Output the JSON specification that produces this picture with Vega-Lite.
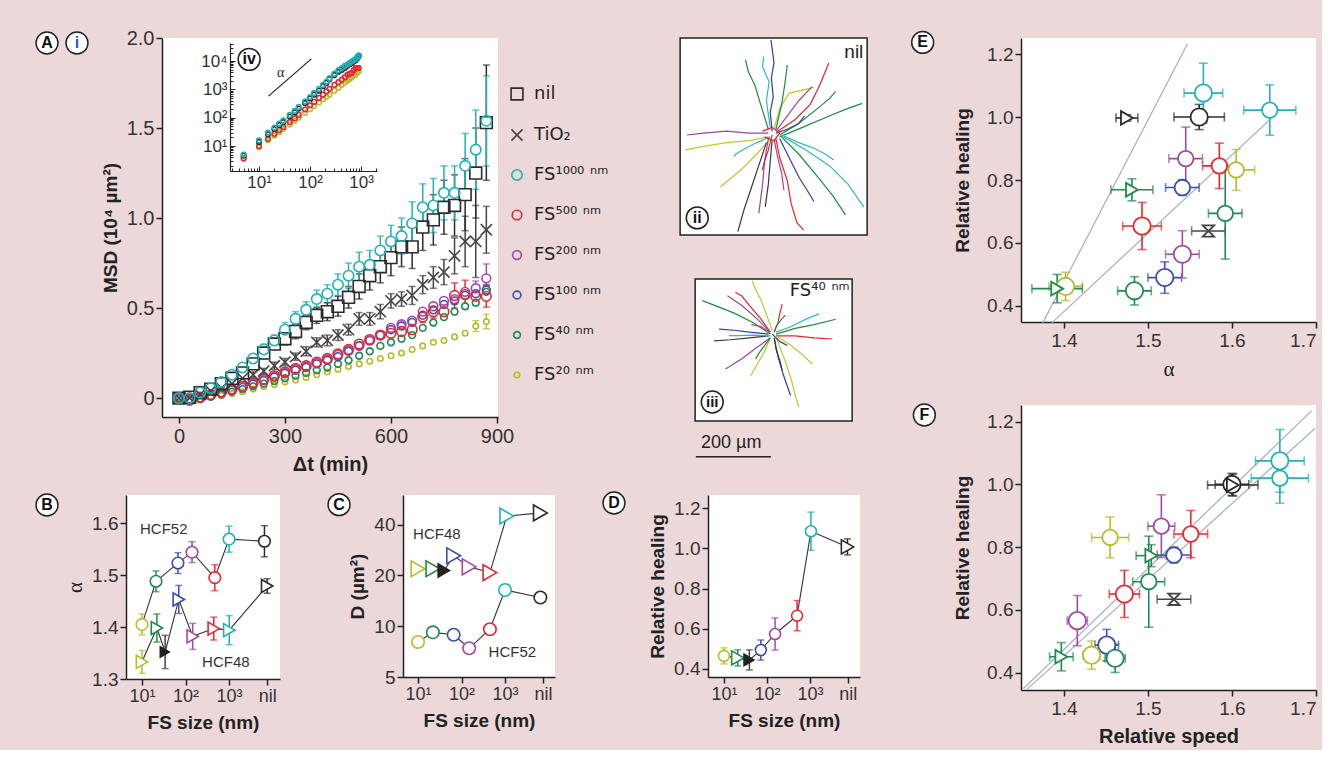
{
"$schema":"https://vega.github.io/schema/vega-lite/v6.json",
"background":"#ecd8d9",
"padding":{"left":33,"top":28,"right":4,"bottom":4},
"config":{
 "font":"Liberation Sans",
 "view":{"fill":"white","stroke":null},
 "axis":{"grid":false,"domainColor":"#222","domainWidth":1.5,"tickColor":"#222","tickWidth":1.5,"tickSize":6,"labelFontSize":19,"labelColor":"#333","labelPadding":2,"titleFontSize":19,"titleFontWeight":"bold","titleColor":"#222","titlePadding":8,"labelFont":"Liberation Sans","titleFont":"Liberation Sans"},
 "legend":{"labelFont":"DejaVu Sans"},
 "text":{"font":"Liberation Sans"}
},
"datasets":{
"msd":[
{"s":"20","t":0,"v":0},{"s":"20","t":30,"v":-0.01},{"s":"20","t":60,"v":-0.005},{"s":"20","t":90,"v":0.005},{"s":"20","t":120,"v":0.015},{"s":"20","t":150,"v":0.025},{"s":"20","t":180,"v":0.035},{"s":"20","t":210,"v":0.05},{"s":"20","t":240,"v":0.065},{"s":"20","t":270,"v":0.075},{"s":"20","t":300,"v":0.09},{"s":"20","t":330,"v":0.1},{"s":"20","t":360,"v":0.115},{"s":"20","t":390,"v":0.13},{"s":"20","t":420,"v":0.145},{"s":"20","t":450,"v":0.16},{"s":"20","t":480,"v":0.175},{"s":"20","t":510,"v":0.19},{"s":"20","t":540,"v":0.205},{"s":"20","t":570,"v":0.22},{"s":"20","t":600,"v":0.235},{"s":"20","t":630,"v":0.25},{"s":"20","t":660,"v":0.27},{"s":"20","t":690,"v":0.29},{"s":"20","t":720,"v":0.31},{"s":"20","t":750,"v":0.32},{"s":"20","t":780,"v":0.34},{"s":"20","t":810,"v":0.36},{"s":"20","t":840,"v":0.4,"e":0.03},{"s":"20","t":870,"v":0.425,"e":0.04},
{"s":"40","t":0,"v":0},{"s":"40","t":30,"v":-0.01},{"s":"40","t":60,"v":-0.005},{"s":"40","t":90,"v":0.008},{"s":"40","t":120,"v":0.02},{"s":"40","t":150,"v":0.035},{"s":"40","t":180,"v":0.05},{"s":"40","t":210,"v":0.065},{"s":"40","t":240,"v":0.08},{"s":"40","t":270,"v":0.095},{"s":"40","t":300,"v":0.11},{"s":"40","t":330,"v":0.125},{"s":"40","t":360,"v":0.14},{"s":"40","t":390,"v":0.155},{"s":"40","t":420,"v":0.17},{"s":"40","t":450,"v":0.19},{"s":"40","t":480,"v":0.21},{"s":"40","t":510,"v":0.235},{"s":"40","t":540,"v":0.26},{"s":"40","t":570,"v":0.29},{"s":"40","t":600,"v":0.31},{"s":"40","t":630,"v":0.33},{"s":"40","t":660,"v":0.35},{"s":"40","t":690,"v":0.39},{"s":"40","t":720,"v":0.42},{"s":"40","t":750,"v":0.45},{"s":"40","t":780,"v":0.48},{"s":"40","t":810,"v":0.51},{"s":"40","t":840,"v":0.53},{"s":"40","t":870,"v":0.59,"e":0.03},
{"s":"100","t":0,"v":0},{"s":"100","t":30,"v":-0.01},{"s":"100","t":60,"v":0},{"s":"100","t":90,"v":0.012},{"s":"100","t":120,"v":0.028},{"s":"100","t":150,"v":0.045},{"s":"100","t":180,"v":0.06},{"s":"100","t":210,"v":0.078},{"s":"100","t":240,"v":0.097},{"s":"100","t":270,"v":0.117},{"s":"100","t":300,"v":0.137},{"s":"100","t":330,"v":0.155},{"s":"100","t":360,"v":0.17},{"s":"100","t":390,"v":0.19},{"s":"100","t":420,"v":0.21},{"s":"100","t":450,"v":0.23},{"s":"100","t":480,"v":0.26},{"s":"100","t":510,"v":0.29},{"s":"100","t":540,"v":0.32},{"s":"100","t":570,"v":0.35},{"s":"100","t":600,"v":0.38},{"s":"100","t":630,"v":0.4},{"s":"100","t":660,"v":0.42},{"s":"100","t":690,"v":0.46},{"s":"100","t":720,"v":0.49},{"s":"100","t":750,"v":0.52},{"s":"100","t":780,"v":0.54},{"s":"100","t":810,"v":0.57},{"s":"100","t":840,"v":0.58},{"s":"100","t":870,"v":0.6,"e":0.03},
{"s":"200","t":0,"v":0},{"s":"200","t":30,"v":-0.015},{"s":"200","t":60,"v":0},{"s":"200","t":90,"v":0.015},{"s":"200","t":120,"v":0.03},{"s":"200","t":150,"v":0.045},{"s":"200","t":180,"v":0.06},{"s":"200","t":210,"v":0.08},{"s":"200","t":240,"v":0.1},{"s":"200","t":270,"v":0.12},{"s":"200","t":300,"v":0.14},{"s":"200","t":330,"v":0.16},{"s":"200","t":360,"v":0.175},{"s":"200","t":390,"v":0.195},{"s":"200","t":420,"v":0.215},{"s":"200","t":450,"v":0.24},{"s":"200","t":480,"v":0.265},{"s":"200","t":510,"v":0.29},{"s":"200","t":540,"v":0.32},{"s":"200","t":570,"v":0.35},{"s":"200","t":600,"v":0.39},{"s":"200","t":630,"v":0.41},{"s":"200","t":660,"v":0.43},{"s":"200","t":690,"v":0.48},{"s":"200","t":720,"v":0.51},{"s":"200","t":750,"v":0.54},{"s":"200","t":780,"v":0.55},{"s":"200","t":810,"v":0.59},{"s":"200","t":840,"v":0.61,"e":0.04},{"s":"200","t":870,"v":0.665,"e":0.08},
{"s":"500","t":0,"v":0},{"s":"500","t":30,"v":-0.005},{"s":"500","t":60,"v":0.005},{"s":"500","t":90,"v":0.02},{"s":"500","t":120,"v":0.035},{"s":"500","t":150,"v":0.05},{"s":"500","t":180,"v":0.065},{"s":"500","t":210,"v":0.085},{"s":"500","t":240,"v":0.105},{"s":"500","t":270,"v":0.125},{"s":"500","t":300,"v":0.145},{"s":"500","t":330,"v":0.165},{"s":"500","t":360,"v":0.18},{"s":"500","t":390,"v":0.2},{"s":"500","t":420,"v":0.22},{"s":"500","t":450,"v":0.245},{"s":"500","t":480,"v":0.27},{"s":"500","t":510,"v":0.3},{"s":"500","t":540,"v":0.325},{"s":"500","t":570,"v":0.35},{"s":"500","t":600,"v":0.36},{"s":"500","t":630,"v":0.37},{"s":"500","t":660,"v":0.38,"e":0.03},{"s":"500","t":690,"v":0.45,"e":0.03},{"s":"500","t":720,"v":0.48,"e":0.035},{"s":"500","t":750,"v":0.48,"e":0.04},{"s":"500","t":780,"v":0.57,"e":0.07},{"s":"500","t":810,"v":0.575,"e":0.08},{"s":"500","t":840,"v":0.565,"e":0.05},{"s":"500","t":870,"v":0.565,"e":0.06},
{"s":"TiO2","t":0,"v":0},{"s":"TiO2","t":30,"v":0},{"s":"TiO2","t":60,"v":0.02},{"s":"TiO2","t":90,"v":0.04},{"s":"TiO2","t":120,"v":0.055},{"s":"TiO2","t":150,"v":0.08},{"s":"TiO2","t":180,"v":0.11},{"s":"TiO2","t":210,"v":0.13,"e":0.015},{"s":"TiO2","t":240,"v":0.15,"e":0.015},{"s":"TiO2","t":270,"v":0.18,"e":0.02},{"s":"TiO2","t":300,"v":0.2,"e":0.02},{"s":"TiO2","t":330,"v":0.23,"e":0.02},{"s":"TiO2","t":360,"v":0.26,"e":0.025},{"s":"TiO2","t":390,"v":0.31,"e":0.025},{"s":"TiO2","t":420,"v":0.32,"e":0.03},{"s":"TiO2","t":450,"v":0.35,"e":0.03},{"s":"TiO2","t":480,"v":0.38,"e":0.03},{"s":"TiO2","t":510,"v":0.44,"e":0.035},{"s":"TiO2","t":540,"v":0.44,"e":0.035},{"s":"TiO2","t":570,"v":0.48,"e":0.04},{"s":"TiO2","t":600,"v":0.54,"e":0.04},{"s":"TiO2","t":630,"v":0.55,"e":0.04},{"s":"TiO2","t":660,"v":0.57,"e":0.05},{"s":"TiO2","t":690,"v":0.63,"e":0.05},{"s":"TiO2","t":720,"v":0.67,"e":0.06},{"s":"TiO2","t":750,"v":0.7,"e":0.07},{"s":"TiO2","t":780,"v":0.79,"e":0.1},{"s":"TiO2","t":810,"v":0.87,"e":0.14},{"s":"TiO2","t":840,"v":0.87,"e":0.2},{"s":"TiO2","t":870,"v":0.935,"e":0.13},
{"s":"nil","t":0,"v":0},{"s":"nil","t":30,"v":0.005},{"s":"nil","t":60,"v":0.03},{"s":"nil","t":90,"v":0.05},{"s":"nil","t":120,"v":0.08},{"s":"nil","t":150,"v":0.11},{"s":"nil","t":180,"v":0.14},{"s":"nil","t":210,"v":0.19},{"s":"nil","t":240,"v":0.25,"e":0.03},{"s":"nil","t":270,"v":0.3,"e":0.03},{"s":"nil","t":300,"v":0.33,"e":0.035},{"s":"nil","t":330,"v":0.37,"e":0.04},{"s":"nil","t":360,"v":0.42,"e":0.04},{"s":"nil","t":390,"v":0.46,"e":0.045},{"s":"nil","t":420,"v":0.48,"e":0.05},{"s":"nil","t":450,"v":0.51,"e":0.055},{"s":"nil","t":480,"v":0.56,"e":0.06},{"s":"nil","t":510,"v":0.62,"e":0.07},{"s":"nil","t":540,"v":0.68,"e":0.08},{"s":"nil","t":570,"v":0.73,"e":0.09},{"s":"nil","t":600,"v":0.78,"e":0.1},{"s":"nil","t":630,"v":0.84,"e":0.11},{"s":"nil","t":660,"v":0.84,"e":0.12},{"s":"nil","t":690,"v":0.95,"e":0.13},{"s":"nil","t":720,"v":0.99,"e":0.14},{"s":"nil","t":750,"v":1.06,"e":0.15},{"s":"nil","t":780,"v":1.07,"e":0.17},{"s":"nil","t":810,"v":1.13,"e":0.2},{"s":"nil","t":840,"v":1.25,"e":0.25},{"s":"nil","t":870,"v":1.53,"e":0.32},
{"s":"1000","t":0,"v":0},{"s":"1000","t":30,"v":0},{"s":"1000","t":60,"v":0.03},{"s":"1000","t":90,"v":0.055},{"s":"1000","t":120,"v":0.09},{"s":"1000","t":150,"v":0.13},{"s":"1000","t":180,"v":0.17},{"s":"1000","t":210,"v":0.22},{"s":"1000","t":240,"v":0.27,"e":0.03},{"s":"1000","t":270,"v":0.32,"e":0.03},{"s":"1000","t":300,"v":0.38,"e":0.04},{"s":"1000","t":330,"v":0.44,"e":0.04},{"s":"1000","t":360,"v":0.49,"e":0.045},{"s":"1000","t":390,"v":0.55,"e":0.05},{"s":"1000","t":420,"v":0.58,"e":0.05},{"s":"1000","t":450,"v":0.63,"e":0.06},{"s":"1000","t":480,"v":0.68,"e":0.07},{"s":"1000","t":510,"v":0.73,"e":0.08},{"s":"1000","t":540,"v":0.74,"e":0.08},{"s":"1000","t":570,"v":0.82,"e":0.08},{"s":"1000","t":600,"v":0.87,"e":0.09},{"s":"1000","t":630,"v":0.9,"e":0.1},{"s":"1000","t":660,"v":0.97,"e":0.12},{"s":"1000","t":690,"v":1.06,"e":0.13},{"s":"1000","t":720,"v":1.07,"e":0.15},{"s":"1000","t":750,"v":1.14,"e":0.15},{"s":"1000","t":780,"v":1.14,"e":0.15},{"s":"1000","t":810,"v":1.29,"e":0.18},{"s":"1000","t":840,"v":1.38,"e":0.22},{"s":"1000","t":870,"v":1.54,"e":0.25}
],
"inset":[
{"s":"20","t":5,"v":3.8},{"s":"20","t":10,"v":9},{"s":"20","t":15,"v":16},{"s":"20","t":20,"v":23},{"s":"20","t":25,"v":31},{"s":"20","t":30,"v":40},{"s":"20","t":40,"v":58},{"s":"20","t":50,"v":78},{"s":"20","t":60,"v":100},{"s":"20","t":80,"v":150},{"s":"20","t":100,"v":200},{"s":"20","t":120,"v":260},{"s":"20","t":150,"v":350},{"s":"20","t":180,"v":450},{"s":"20","t":210,"v":550},{"s":"20","t":240,"v":650},{"s":"20","t":300,"v":900},{"s":"20","t":360,"v":1150},{"s":"20","t":420,"v":1450},{"s":"20","t":480,"v":1750},{"s":"20","t":540,"v":2050},{"s":"20","t":600,"v":2350},{"s":"20","t":660,"v":2700},{"s":"20","t":720,"v":3100},{"s":"20","t":780,"v":3400},{"s":"20","t":840,"v":4000},{"s":"20","t":900,"v":4300},
{"s":"500","t":5,"v":3.6},{"s":"500","t":10,"v":10},{"s":"500","t":15,"v":18},{"s":"500","t":20,"v":27},{"s":"500","t":25,"v":37},{"s":"500","t":30,"v":47},{"s":"500","t":40,"v":70},{"s":"500","t":50,"v":95},{"s":"500","t":60,"v":125},{"s":"500","t":80,"v":195},{"s":"500","t":100,"v":275},{"s":"500","t":120,"v":360},{"s":"500","t":150,"v":500},{"s":"500","t":180,"v":650},{"s":"500","t":210,"v":850},{"s":"500","t":240,"v":1050},{"s":"500","t":300,"v":1450},{"s":"500","t":360,"v":1800},{"s":"500","t":420,"v":2200},{"s":"500","t":480,"v":2700},{"s":"500","t":540,"v":3300},{"s":"500","t":600,"v":3600},{"s":"500","t":660,"v":3800},{"s":"500","t":720,"v":4800},{"s":"500","t":780,"v":5700},{"s":"500","t":840,"v":5650},{"s":"500","t":900,"v":5700},
{"s":"nil","t":5,"v":4.6},{"s":"nil","t":10,"v":14},{"s":"nil","t":15,"v":26},{"s":"nil","t":20,"v":40},{"s":"nil","t":25,"v":55},{"s":"nil","t":30,"v":70},{"s":"nil","t":40,"v":110},{"s":"nil","t":50,"v":155},{"s":"nil","t":60,"v":210},{"s":"nil","t":80,"v":330},{"s":"nil","t":100,"v":480},{"s":"nil","t":120,"v":650},{"s":"nil","t":150,"v":900},{"s":"nil","t":180,"v":1300},{"s":"nil","t":210,"v":1700},{"s":"nil","t":240,"v":2300},{"s":"nil","t":300,"v":3200},{"s":"nil","t":360,"v":4200},{"s":"nil","t":420,"v":4900},{"s":"nil","t":480,"v":5700},{"s":"nil","t":540,"v":6800},{"s":"nil","t":600,"v":7800},{"s":"nil","t":660,"v":8600},{"s":"nil","t":720,"v":9900},{"s":"nil","t":780,"v":10700},{"s":"nil","t":840,"v":12500},{"s":"nil","t":900,"v":15000},
{"s":"1000","t":5,"v":5},{"s":"1000","t":10,"v":16},{"s":"1000","t":15,"v":30},{"s":"1000","t":20,"v":45},{"s":"1000","t":25,"v":62},{"s":"1000","t":30,"v":80},{"s":"1000","t":40,"v":125},{"s":"1000","t":50,"v":175},{"s":"1000","t":60,"v":240},{"s":"1000","t":80,"v":380},{"s":"1000","t":100,"v":540},{"s":"1000","t":120,"v":750},{"s":"1000","t":150,"v":1050},{"s":"1000","t":180,"v":1450},{"s":"1000","t":210,"v":1900},{"s":"1000","t":240,"v":2500},{"s":"1000","t":300,"v":3600},{"s":"1000","t":360,"v":4800},{"s":"1000","t":420,"v":5800},{"s":"1000","t":480,"v":6800},{"s":"1000","t":540,"v":7600},{"s":"1000","t":600,"v":8700},{"s":"1000","t":660,"v":9800},{"s":"1000","t":720,"v":10900},{"s":"1000","t":780,"v":11800},{"s":"1000","t":840,"v":13800},{"s":"1000","t":900,"v":16000}
],
"traj":[
{"id":1,"c":"b","i":0,"x":0,"y":10},{"id":1,"c":"b","i":1,"x":-5,"y":60},{"id":1,"c":"b","i":2,"x":3,"y":100},{"id":1,"c":"b","i":3,"x":-2,"y":150},{"id":1,"c":"b","i":4,"x":5,"y":190},{"id":1,"c":"b","i":5,"x":-3,"y":250},
{"id":2,"c":"g","i":0,"x":-10,"y":15},{"id":2,"c":"g","i":1,"x":-30,"y":80},{"id":2,"c":"g","i":2,"x":-45,"y":130},{"id":2,"c":"g","i":3,"x":-62,"y":165},{"id":2,"c":"g","i":4,"x":-70,"y":197},
{"id":3,"c":"c","i":0,"x":-5,"y":20},{"id":3,"c":"c","i":1,"x":-15,"y":90},{"id":3,"c":"c","i":2,"x":-8,"y":140},{"id":3,"c":"c","i":3,"x":-25,"y":180},{"id":3,"c":"c","i":4,"x":-22,"y":206},
{"id":4,"c":"y","i":0,"x":5,"y":15},{"id":4,"c":"y","i":1,"x":20,"y":70},{"id":4,"c":"y","i":2,"x":45,"y":110},{"id":4,"c":"y","i":3,"x":80,"y":118},{"id":4,"c":"y","i":4,"x":110,"y":125},
{"id":5,"c":"g","i":0,"x":10,"y":15},{"id":5,"c":"g","i":1,"x":25,"y":80},{"id":5,"c":"g","i":2,"x":33,"y":130},{"id":5,"c":"g","i":3,"x":40,"y":184},
{"id":6,"c":"r","i":0,"x":15,"y":10},{"id":6,"c":"r","i":1,"x":60,"y":40},{"id":6,"c":"r","i":2,"x":100,"y":80},{"id":6,"c":"r","i":3,"x":125,"y":130},{"id":6,"c":"r","i":4,"x":149,"y":189},
{"id":7,"c":"g","i":0,"x":20,"y":0},{"id":7,"c":"g","i":1,"x":70,"y":30},{"id":7,"c":"g","i":2,"x":120,"y":70},{"id":7,"c":"g","i":3,"x":150,"y":95},{"id":7,"c":"g","i":4,"x":167,"y":114},
{"id":8,"c":"g","i":0,"x":20,"y":-5},{"id":8,"c":"g","i":1,"x":80,"y":20},{"id":8,"c":"g","i":2,"x":150,"y":50},{"id":8,"c":"g","i":3,"x":200,"y":70},{"id":8,"c":"g","i":4,"x":237,"y":83},
{"id":9,"c":"p","i":0,"x":-10,"y":5},{"id":9,"c":"p","i":1,"x":-60,"y":5},{"id":9,"c":"p","i":2,"x":-120,"y":10},{"id":9,"c":"p","i":3,"x":-180,"y":5},{"id":9,"c":"p","i":4,"x":-224,"y":0},
{"id":10,"c":"y","i":0,"x":-10,"y":-5},{"id":10,"c":"y","i":1,"x":-60,"y":-15},{"id":10,"c":"y","i":2,"x":-120,"y":-20},{"id":10,"c":"y","i":3,"x":-180,"y":-30},{"id":10,"c":"y","i":4,"x":-228,"y":-39},
{"id":11,"c":"c","i":0,"x":-5,"y":-5},{"id":11,"c":"c","i":1,"x":-40,"y":-20},{"id":11,"c":"c","i":2,"x":-70,"y":-35},{"id":11,"c":"c","i":3,"x":-95,"y":-50},{"id":11,"c":"c","i":4,"x":-101,"y":-57},
{"id":12,"c":"y","i":0,"x":-5,"y":-10},{"id":12,"c":"y","i":1,"x":-40,"y":-50},{"id":12,"c":"y","i":2,"x":-80,"y":-90},{"id":12,"c":"y","i":3,"x":-110,"y":-115},{"id":12,"c":"y","i":4,"x":-136,"y":-136},
{"id":13,"c":"k","i":0,"x":-15,"y":-20},{"id":13,"c":"k","i":1,"x":-35,"y":-80},{"id":13,"c":"k","i":2,"x":-55,"y":-140},{"id":13,"c":"k","i":3,"x":-75,"y":-200},{"id":13,"c":"k","i":4,"x":-90,"y":-254},
{"id":14,"c":"k","i":0,"x":0,"y":-15},{"id":14,"c":"k","i":1,"x":-5,"y":-70},{"id":14,"c":"k","i":2,"x":-10,"y":-130},{"id":14,"c":"k","i":3,"x":-18,"y":-189},
{"id":15,"c":"p","i":0,"x":-10,"y":-10},{"id":15,"c":"p","i":1,"x":-20,"y":-70},{"id":15,"c":"p","i":2,"x":-25,"y":-130},{"id":15,"c":"p","i":3,"x":-35,"y":-206},
{"id":16,"c":"r","i":0,"x":10,"y":-10},{"id":16,"c":"r","i":1,"x":20,"y":-60},{"id":16,"c":"r","i":2,"x":40,"y":-120},{"id":16,"c":"r","i":3,"x":50,"y":-180},{"id":16,"c":"r","i":4,"x":65,"y":-230},{"id":16,"c":"r","i":5,"x":83,"y":-250},
{"id":17,"c":"b","i":0,"x":20,"y":-10},{"id":17,"c":"b","i":1,"x":45,"y":-60},{"id":17,"c":"b","i":2,"x":70,"y":-110},{"id":17,"c":"b","i":3,"x":95,"y":-150},{"id":17,"c":"b","i":4,"x":110,"y":-175},
{"id":18,"c":"g","i":0,"x":25,"y":-5},{"id":18,"c":"g","i":1,"x":70,"y":-50},{"id":18,"c":"g","i":2,"x":120,"y":-110},{"id":18,"c":"g","i":3,"x":160,"y":-160},{"id":18,"c":"g","i":4,"x":193,"y":-210},
{"id":19,"c":"c","i":0,"x":30,"y":-5},{"id":19,"c":"c","i":1,"x":90,"y":-40},{"id":19,"c":"c","i":2,"x":150,"y":-80},{"id":19,"c":"c","i":3,"x":200,"y":-130},{"id":19,"c":"c","i":4,"x":241,"y":-189},
{"id":20,"c":"c","i":0,"x":25,"y":0},{"id":20,"c":"c","i":1,"x":70,"y":-20},{"id":20,"c":"c","i":2,"x":110,"y":-35},{"id":20,"c":"c","i":3,"x":140,"y":-50},{"id":20,"c":"c","i":4,"x":162,"y":-66},
{"id":21,"c":"p","i":0,"x":10,"y":10},{"id":21,"c":"p","i":1,"x":40,"y":50},{"id":21,"c":"p","i":2,"x":70,"y":90},{"id":21,"c":"p","i":3,"x":105,"y":127},
{"id":22,"c":"m","i":0,"x":5,"y":-10},{"id":22,"c":"m","i":1,"x":15,"y":-60},{"id":22,"c":"m","i":2,"x":25,"y":-100},{"id":22,"c":"m","i":3,"x":31,"y":-145},
{"id":23,"c":"r","i":0,"x":0,"y":0},{"id":23,"c":"r","i":1,"x":-10,"y":-40},{"id":23,"c":"r","i":2,"x":-20,"y":-70},{"id":23,"c":"r","i":3,"x":-26,"y":-92},
{"id":24,"c":"b","i":0,"x":10,"y":5},{"id":24,"c":"b","i":1,"x":40,"y":15},{"id":24,"c":"b","i":2,"x":70,"y":30},{"id":24,"c":"b","i":3,"x":85,"y":50},
{"id":25,"c":"r","i":0,"x":-25,"y":10},{"id":25,"c":"r","i":1,"x":0,"y":20},{"id":25,"c":"r","i":2,"x":20,"y":5},{"id":25,"c":"r","i":3,"x":5,"y":-15},{"id":25,"c":"r","i":4,"x":-20,"y":-5},
{"id":31,"c":"y","i":0,"x":0,"y":10},{"id":31,"c":"y","i":1,"x":-15,"y":50},{"id":31,"c":"y","i":2,"x":-30,"y":90},{"id":31,"c":"y","i":3,"x":-45,"y":120},{"id":31,"c":"y","i":4,"x":-53,"y":140},
{"id":32,"c":"r","i":0,"x":-5,"y":5},{"id":32,"c":"r","i":1,"x":-30,"y":40},{"id":32,"c":"r","i":2,"x":-60,"y":75},{"id":32,"c":"r","i":3,"x":-80,"y":100},{"id":32,"c":"r","i":4,"x":-97,"y":110},
{"id":33,"c":"g","i":0,"x":-5,"y":0},{"id":33,"c":"g","i":1,"x":-50,"y":30},{"id":33,"c":"g","i":2,"x":-100,"y":55},{"id":33,"c":"g","i":3,"x":-150,"y":75},{"id":33,"c":"g","i":4,"x":-184,"y":88},
{"id":34,"c":"p","i":0,"x":-5,"y":5},{"id":34,"c":"p","i":1,"x":-40,"y":40},{"id":34,"c":"p","i":2,"x":-80,"y":75},{"id":34,"c":"p","i":3,"x":-118,"y":101},
{"id":35,"c":"r","i":0,"x":5,"y":5},{"id":35,"c":"r","i":1,"x":15,"y":30},{"id":35,"c":"r","i":2,"x":20,"y":55},{"id":35,"c":"r","i":3,"x":26,"y":79},
{"id":36,"c":"g","i":0,"x":10,"y":0},{"id":36,"c":"g","i":1,"x":60,"y":15},{"id":36,"c":"g","i":2,"x":110,"y":25},{"id":36,"c":"g","i":3,"x":167,"y":39},
{"id":37,"c":"c","i":0,"x":10,"y":5},{"id":37,"c":"c","i":1,"x":50,"y":20},{"id":37,"c":"c","i":2,"x":90,"y":40},{"id":37,"c":"c","i":3,"x":123,"y":53},
{"id":38,"c":"r","i":0,"x":10,"y":-5},{"id":38,"c":"r","i":1,"x":60,"y":-5},{"id":38,"c":"r","i":2,"x":110,"y":-10},{"id":38,"c":"r","i":3,"x":158,"y":-13},
{"id":39,"c":"k","i":0,"x":-10,"y":-5},{"id":39,"c":"k","i":1,"x":-60,"y":-10},{"id":39,"c":"k","i":2,"x":-110,"y":-15},{"id":39,"c":"k","i":3,"x":-153,"y":-18},
{"id":40,"c":"b","i":0,"x":-10,"y":0},{"id":40,"c":"b","i":1,"x":-60,"y":5},{"id":40,"c":"b","i":2,"x":-100,"y":10},{"id":40,"c":"b","i":3,"x":-140,"y":13},
{"id":41,"c":"c","i":0,"x":-5,"y":-5},{"id":41,"c":"c","i":1,"x":-50,"y":-3},{"id":41,"c":"c","i":2,"x":-90,"y":-4},{"id":41,"c":"c","i":3,"x":-114,"y":-4},
{"id":42,"c":"p","i":0,"x":-5,"y":-10},{"id":42,"c":"p","i":1,"x":-40,"y":-35},{"id":42,"c":"p","i":2,"x":-80,"y":-65},{"id":42,"c":"p","i":3,"x":-123,"y":-92},
{"id":43,"c":"y","i":0,"x":-5,"y":-10},{"id":43,"c":"y","i":1,"x":-20,"y":-45},{"id":43,"c":"y","i":2,"x":-40,"y":-80},{"id":43,"c":"y","i":3,"x":-57,"y":-110},
{"id":44,"c":"b","i":0,"x":5,"y":-10},{"id":44,"c":"b","i":1,"x":15,"y":-60},{"id":44,"c":"b","i":2,"x":30,"y":-110},{"id":44,"c":"b","i":3,"x":48,"y":-162},
{"id":45,"c":"y","i":0,"x":10,"y":-10},{"id":45,"c":"y","i":1,"x":30,"y":-60},{"id":45,"c":"y","i":2,"x":50,"y":-120},{"id":45,"c":"y","i":3,"x":60,"y":-160},{"id":45,"c":"y","i":4,"x":70,"y":-193},
{"id":46,"c":"y","i":0,"x":10,"y":-5},{"id":46,"c":"y","i":1,"x":50,"y":-30},{"id":46,"c":"y","i":2,"x":80,"y":-55},{"id":46,"c":"y","i":3,"x":105,"y":-79},
{"id":47,"c":"k","i":0,"x":5,"y":-10},{"id":47,"c":"k","i":1,"x":10,"y":-40},{"id":47,"c":"k","i":2,"x":20,"y":-70},{"id":47,"c":"k","i":3,"x":26,"y":-96},
{"id":48,"c":"g","i":0,"x":-5,"y":-10},{"id":48,"c":"g","i":1,"x":-20,"y":-30},{"id":48,"c":"g","i":2,"x":-35,"y":-50},{"id":48,"c":"g","i":3,"x":-44,"y":-66},
{"id":49,"c":"m","i":0,"x":-5,"y":5},{"id":49,"c":"m","i":1,"x":-30,"y":20},{"id":49,"c":"m","i":2,"x":-55,"y":25},
{"id":50,"c":"g","i":0,"x":5,"y":5},{"id":50,"c":"g","i":1,"x":10,"y":20},{"id":50,"c":"g","i":2,"x":25,"y":40},{"id":50,"c":"g","i":3,"x":35,"y":50},
{"id":51,"c":"b","i":0,"x":0,"y":0},{"id":51,"c":"b","i":1,"x":20,"y":-20},{"id":51,"c":"b","i":2,"x":40,"y":-30}
],
"B":[
{"g":"52","s":"20","x":10,"v":1.405,"e":0.02},{"g":"52","s":"40","x":21,"v":1.488,"e":0.02},{"g":"52","s":"100","x":67,"v":1.523,"e":0.02},{"g":"52","s":"200","x":141,"v":1.544,"e":0.02},{"g":"52","s":"500","x":470,"v":1.495,"e":0.025},{"g":"52","s":"1000","x":1000,"v":1.569,"e":0.025},{"g":"52","s":"nil","x":6500,"v":1.565,"e":0.03},
{"g":"48","s":"20","x":10,"v":1.333,"e":0.022},{"g":"48","s":"40","x":22,"v":1.398,"e":0.027},{"g":"48","s":"TiO2","x":34,"v":1.352,"e":0.032},{"g":"48","s":"100","x":70,"v":1.453,"e":0.027},{"g":"48","s":"200","x":146,"v":1.382,"e":0.025},{"g":"48","s":"500","x":445,"v":1.397,"e":0.022},{"g":"48","s":"1000","x":1010,"v":1.394,"e":0.028},{"g":"48","s":"nil","x":7500,"v":1.479,"e":0.014}
],
"C":[
{"g":"48","s":"20","x":10,"v":21.9},{"g":"48","s":"40","x":22,"v":21.9},{"g":"48","s":"TiO2","x":40,"v":21.4},{"g":"48","s":"100","x":66,"v":26.2},{"g":"48","s":"200","x":150,"v":22.5},{"g":"48","s":"500","x":450,"v":20.8},{"g":"48","s":"1000","x":1100,"v":45},{"g":"48","s":"nil","x":6500,"v":47},
{"g":"52","s":"20","x":10,"v":8.07},{"g":"52","s":"40","x":22,"v":9.2},{"g":"52","s":"100","x":66,"v":8.9},{"g":"52","s":"200","x":150,"v":7.4},{"g":"52","s":"500","x":450,"v":9.6},{"g":"52","s":"1000","x":1000,"v":16.4},{"g":"52","s":"nil","x":6500,"v":14.8}
],
"D":[
{"s":"20","k":"c","x":10,"v":0.465,"e":0.04},{"s":"40","k":"t","x":21,"v":0.455,"e":0.04},{"s":"TiO2","k":"f","x":39,"v":0.445,"e":0.05},{"s":"100","k":"c","x":72,"v":0.494,"e":0.05},{"s":"200","k":"c","x":154,"v":0.574,"e":0.08},{"s":"500","k":"c","x":500,"v":0.665,"e":0.075},{"s":"1000","k":"c","x":1050,"v":1.085,"e":0.095},{"s":"nil","k":"t","x":7400,"v":1.007,"e":0.04}
],
"E":[
{"s":"1000","k":"big","x":1.566,"y":1.076,"ex":0.023,"ey":0.095},{"s":"1000","k":"small","x":1.645,"y":1.022,"ex":0.031,"ey":0.08},{"s":"nil","k":"big","x":1.561,"y":1.0,"ex":0.03,"ey":0.04},{"s":"nil","k":"tri","x":1.475,"y":0.997,"ex":0.013,"ey":0.01},{"s":"200","k":"small","x":1.545,"y":0.868,"ex":0.02,"ey":0.1},{"s":"500","k":"small","x":1.585,"y":0.845,"ex":0.02,"ey":0.072},{"s":"20","k":"small","x":1.605,"y":0.832,"ex":0.022,"ey":0.065},{"s":"100","k":"small","x":1.541,"y":0.776,"ex":0.02,"ey":0.025},{"s":"40","k":"tri","x":1.481,"y":0.769,"ex":0.025,"ey":0.035},{"s":"500","k":"big","x":1.493,"y":0.654,"ex":0.023,"ey":0.075},{"s":"40","k":"small","x":1.592,"y":0.694,"ex":0.02,"ey":0.145},{"s":"TiO2","k":"tio","x":1.572,"y":0.638,"ex":0.02,"ey":0.01},{"s":"200","k":"big","x":1.541,"y":0.564,"ex":0.02,"ey":0.075},{"s":"100","k":"big","x":1.52,"y":0.49,"ex":0.02,"ey":0.05},{"s":"40","k":"big","x":1.484,"y":0.448,"ex":0.02,"ey":0.045},{"s":"20","k":"big","x":1.402,"y":0.462,"ex":0.02,"ey":0.045},{"s":"40","k":"tri","x":1.392,"y":0.455,"ex":0.03,"ey":0.045}
],
"F":[
{"s":"1000","k":"big","x":1.657,"y":1.075,"ex":0.029,"ey":0.1},{"s":"1000","k":"small","x":1.657,"y":1.02,"ex":0.034,"ey":0.08},{"s":"nil","k":"big","x":1.6,"y":1.0,"ex":0.02,"ey":0.035},{"s":"nil","k":"tri","x":1.601,"y":0.998,"ex":0.03,"ey":0.035},{"s":"200","k":"small","x":1.516,"y":0.867,"ex":0.016,"ey":0.1},{"s":"500","k":"small","x":1.551,"y":0.842,"ex":0.02,"ey":0.075},{"s":"20","k":"small","x":1.455,"y":0.831,"ex":0.022,"ey":0.065},{"s":"100","k":"small","x":1.531,"y":0.775,"ex":0.02,"ey":0.025},{"s":"40","k":"tri","x":1.504,"y":0.773,"ex":0.018,"ey":0.035},{"s":"40","k":"small","x":1.501,"y":0.69,"ex":0.019,"ey":0.145},{"s":"500","k":"big","x":1.472,"y":0.651,"ex":0.018,"ey":0.075},{"s":"TiO2","k":"tio","x":1.531,"y":0.634,"ex":0.02,"ey":0.01},{"s":"200","k":"big","x":1.416,"y":0.566,"ex":0.012,"ey":0.08},{"s":"100","k":"big","x":1.451,"y":0.488,"ex":0.014,"ey":0.05},{"s":"20","k":"big","x":1.433,"y":0.456,"ex":0.01,"ey":0.045},{"s":"40","k":"big","x":1.461,"y":0.446,"ex":0.012,"ey":0.045},{"s":"40","k":"tri","x":1.397,"y":0.451,"ex":0.014,"ey":0.045}
]
},
"hconcat":[
{"vconcat":[
 {"hconcat":[
  {"width":1,"height":1,"view":{"fill":null,"stroke":null},
   "data":{"values":[{"lab":"A","x":0,"y":-4},{"lab":"i","x":30,"y":-4}]},
   "layer":[
    {"mark":{"type":"point","shape":"circle","size":480,"filled":false,"fill":"white","stroke":"#222","strokeWidth":1.5,"opacity":1},"encoding":{"x":{"field":"x","type":"quantitative","scale":{"domain":[0,1],"nice":false,"zero":false},"axis":null},"y":{"field":"y","type":"quantitative","scale":{"domain":[0,1],"nice":false,"zero":false},"axis":null}}},
    {"mark":{"type":"text","fontWeight":"bold","fontSize":16},"encoding":{"x":{"field":"x","type":"quantitative","axis":null},"y":{"field":"y","type":"quantitative","axis":null},"text":{"field":"lab"},"color":{"condition":{"test":"datum.lab=='i'","value":"#1f5fa8"},"value":"#111"}}}
   ]},
  {"hconcat":[
   {"width":336,"height":379,
    "layer":[
     {"data":{"name":"msd"},
      "layer":[
       {"transform":[{"filter":"isValid(datum.e)"}],
        "mark":{"type":"errorbar","ticks":{"size":7},"thickness":1.5},
        "encoding":{"x":{"field":"t","type":"quantitative","title":"Δt (min)","scale":{"domain":[-48,903],"nice":false},"axis":{"values":[0,300,600,900],"title":"Δt (min)","labelFontSize":20,"titleFontSize":20,"labelPadding":3}},
         "y":{"field":"v","type":"quantitative","title":"MSD (10⁴ µm²)","scale":{"domain":[-0.105,2.0],"nice":false},"axis":{"values":[0,0.5,1,1.5,2],"labelExpr":"datum.value==0?'0':format(datum.value,'.1f')","title":"MSD (10⁴ µm²)","labelFontSize":20,"titlePadding":6}},
         "yError":{"field":"e"},
         "color":{"field":"s","type":"nominal","legend":null,"scale":{"domain":["nil","TiO2","1000","500","200","100","40","20"],"range":["#2b2b2b","#444444","#20b1b9","#e8262e","#a448a6","#3a4fae","#1f8a4f","#b8bb2b"]}}}},
       {"mark":{"type":"point","filled":true,"color":"white","opacity":1},
        "encoding":{"x":{"field":"t","type":"quantitative","title":"Δt (min)"},"y":{"field":"v","type":"quantitative","title":"MSD (10⁴ µm²)"},
         "shape":{"field":"s","type":"nominal","legend":null,"scale":{"domain":["nil","TiO2","1000","500","200","100","40","20"],"range":["square","M-1,-1L1,1M-1,1L1,-1","circle","circle","circle","circle","circle","circle"]}},
         "size":{"field":"s","type":"nominal","legend":null,"scale":{"domain":["nil","TiO2","1000","500","200","100","40","20"],"range":[140,30,100,100,100,100,100,100]}}}},
       {"mark":{"type":"point","filled":false,"strokeWidth":1.6,"opacity":1},
        "encoding":{"x":{"field":"t","type":"quantitative","title":"Δt (min)"},"y":{"field":"v","type":"quantitative","title":"MSD (10⁴ µm²)"},
         "color":{"field":"s","type":"nominal","scale":{"domain":["nil","TiO2","1000","500","200","100","40","20"],"range":["#2b2b2b","#444444","#20b1b9","#e8262e","#a448a6","#3a4fae","#1f8a4f","#b8bb2b"]},"legend":{"title":null,"orient":"none","legendX":346,"legendY":47,"labelFontSize":18,"labelColor":"#222","rowPadding":22,"symbolStrokeWidth":1.6,"labelOffset":8,"labelExpr":"datum.label=='nil'?'nil':datum.label=='TiO2'?'TiO₂':datum.label=='1000'?'FS¹⁰⁰⁰ ⁿᵐ':datum.label=='500'?'FS⁵⁰⁰ ⁿᵐ':datum.label=='200'?'FS²⁰⁰ ⁿᵐ':datum.label=='100'?'FS¹⁰⁰ ⁿᵐ':datum.label=='40'?'FS⁴⁰ ⁿᵐ':'FS²⁰ ⁿᵐ'"}},
         "shape":{"field":"s","type":"nominal","scale":{"domain":["nil","TiO2","1000","500","200","100","40","20"],"range":["square","M-1,-1L1,1M-1,1L1,-1","circle","circle","circle","circle","circle","circle"]}},
         "size":{"field":"s","type":"nominal","scale":{"domain":["nil","TiO2","1000","500","200","100","40","20"],"range":[140,30,100,100,100,100,100,100]}}}}
      ],
      "resolve":{"scale":{"color":"independent","shape":"independent","size":"independent"},"legend":{"color":"independent","shape":"independent","size":"independent"}}},
     {"layer":[
       {"data":{"name":"inset"},
        "mark":{"type":"point","filled":false,"strokeWidth":1.5,"size":22,"opacity":1},
        "encoding":{"x":{"field":"t","type":"quantitative","scale":{"type":"log","domain":[2.7,2050],"range":[68,215],"nice":false},"axis":{"orient":"bottom","offset":-246,"values":[3,4,5,6,7,8,9,10,20,30,40,50,60,70,80,90,100,200,300,400,500,600,700,800,900,1000,2000],"labelExpr":"datum.value==10?'10¹':datum.value==100?'10²':datum.value==1000?'10³':''","tickSize":{"condition":{"test":"datum.value==10||datum.value==100||datum.value==1000","value":-5},"value":-3},"tickWidth":1,"domainWidth":1.2,"labelPadding":8,"labelFontSize":17,"labelOverlap":false,"labelFlush":false,"title":null}},
         "y":{"field":"v","type":"quantitative","scale":{"type":"log","domain":[1.31,43600],"range":[133,5],"nice":false},"axis":{"orient":"left","offset":-68,"values":[2,3,4,5,6,7,8,9,10,20,30,40,50,60,70,80,90,100,200,300,400,500,600,700,800,900,1000,2000,3000,4000,5000,6000,7000,8000,9000,10000,20000,30000,40000],"labelExpr":"datum.value==10?'10¹':datum.value==100?'10²':datum.value==1000?'10³':datum.value==10000?'10⁴':''","tickSize":{"condition":{"test":"datum.value==10||datum.value==100||datum.value==1000||datum.value==10000","value":-5},"value":-3},"tickWidth":1,"domainWidth":1.2,"labelPadding":8,"labelFontSize":17,"labelOverlap":false,"labelFlush":false,"title":null}},
         "color":{"field":"s","type":"nominal","legend":null,"scale":{"domain":["nil","TiO2","1000","500","200","100","40","20"],"range":["#2b2b2b","#444444","#20b1b9","#e8262e","#a448a6","#3a4fae","#1f8a4f","#b8bb2b"]}}}},
       {"data":{"values":[{"t":15.3,"v":580},{"t":106,"v":12000}]},"mark":{"type":"line","color":"#222","strokeWidth":1.2},"encoding":{"x":{"field":"t","type":"quantitative"},"y":{"field":"v","type":"quantitative"}}},
       {"data":{"values":[{"t":26.7,"v":3900,"lab":"α"}]},"mark":{"type":"text","fontSize":14,"font":"Liberation Serif","color":"#222"},"encoding":{"x":{"field":"t","type":"quantitative"},"y":{"field":"v","type":"quantitative"},"text":{"field":"lab"}}},
       {"data":{"values":[{"t":6.4,"v":11500,"lab":"iv"}]},
        "layer":[
         {"mark":{"type":"point","shape":"circle","size":480,"filled":false,"fill":"white","stroke":"#222","strokeWidth":1.5,"opacity":1},"encoding":{"x":{"field":"t","type":"quantitative"},"y":{"field":"v","type":"quantitative"}}},
         {"mark":{"type":"text","fontWeight":"bold","fontSize":16,"color":"#111"},"encoding":{"x":{"field":"t","type":"quantitative"},"y":{"field":"v","type":"quantitative"},"text":{"field":"lab"}}}
        ]}
     ]}
    ],
    "resolve":{"scale":{"x":"independent","y":"independent","color":"independent","shape":"independent","size":"independent"},"axis":{"x":"independent","y":"independent"},"legend":{"color":"independent","shape":"independent","size":"independent"}}
   },
   {"vconcat":[
    {"width":187,"height":197,"view":{"stroke":"#222","strokeWidth":1.5},
     "layer":[
      {"data":{"name":"traj"},"transform":[{"filter":"datum.id<30"}],"mark":{"type":"line","strokeWidth":1.2},
       "encoding":{"x":{"field":"x","type":"quantitative","scale":{"domain":[-242,250],"nice":false},"axis":null},"y":{"field":"y","type":"quantitative","scale":{"domain":[-263,255],"nice":false},"axis":null},"detail":{"field":"id"},"order":{"field":"i"},
        "color":{"field":"c","type":"nominal","scale":{"domain":["g","c","r","b","p","y","k","m"],"range":["#1f8a42","#2fb8c2","#e5242b","#2e3f9f","#9c43a6","#c4c42c","#3a3a3a","#c43b8e"]},"legend":null}}},
      {"data":{"values":[{"x":-197,"y":-218,"lab":"ii"}]},
       "layer":[
        {"mark":{"type":"point","shape":"circle","size":480,"filled":false,"fill":"white","stroke":"#222","strokeWidth":1.5,"opacity":1},"encoding":{"x":{"field":"x","type":"quantitative","axis":null},"y":{"field":"y","type":"quantitative","axis":null}}},
        {"mark":{"type":"text","fontWeight":"bold","fontSize":16,"color":"#111"},"encoding":{"x":{"field":"x","type":"quantitative","axis":null},"y":{"field":"y","type":"quantitative","axis":null},"text":{"field":"lab"}}}
       ]},
      {"data":{"values":[{"x":240,"y":218,"lab":"nil"}]},"mark":{"type":"text","fontSize":19,"align":"right","color":"#222"},"encoding":{"x":{"field":"x","type":"quantitative","axis":null},"y":{"field":"y","type":"quantitative","axis":null},"text":{"field":"lab"}}}
     ]},
    {"width":157,"height":142,"view":{"stroke":"#222","strokeWidth":1.5},
     "layer":[
      {"data":{"name":"traj"},"transform":[{"filter":"datum.id>30"}],"mark":{"type":"line","strokeWidth":1.2},
       "encoding":{"x":{"field":"x","type":"quantitative","scale":{"domain":[-203,210],"nice":false},"axis":null},"y":{"field":"y","type":"quantitative","scale":{"domain":[-229,145],"nice":false},"axis":null},"detail":{"field":"id"},"order":{"field":"i"},
        "color":{"field":"c","type":"nominal","scale":{"domain":["g","c","r","b","p","y","k","m"],"range":["#1f8a42","#2fb8c2","#e5242b","#2e3f9f","#9c43a6","#c4c42c","#3a3a3a","#c43b8e"]},"legend":null}}},
      {"data":{"values":[{"x":-158,"y":-179,"lab":"iii"}]},
       "layer":[
        {"mark":{"type":"point","shape":"circle","size":480,"filled":false,"fill":"white","stroke":"#222","strokeWidth":1.5,"opacity":1},"encoding":{"x":{"field":"x","type":"quantitative","axis":null},"y":{"field":"y","type":"quantitative","axis":null}}},
        {"mark":{"type":"text","fontWeight":"bold","fontSize":15,"color":"#111"},"encoding":{"x":{"field":"x","type":"quantitative","axis":null},"y":{"field":"y","type":"quantitative","axis":null},"text":{"field":"lab"}}}
       ]},
      {"data":{"values":[{"x":204,"y":113,"lab":"FS⁴⁰ ⁿᵐ"}]},"mark":{"type":"text","fontSize":18,"font":"DejaVu Sans","align":"right","color":"#222"},"encoding":{"x":{"field":"x","type":"quantitative","axis":null},"y":{"field":"y","type":"quantitative","axis":null},"text":{"field":"lab"}}},
      {"data":{"values":[{"x":-201,"x2":-4,"y":-323}]},"mark":{"type":"rule","color":"#222","strokeWidth":1.5},"encoding":{"x":{"field":"x","type":"quantitative","axis":null},"x2":{"field":"x2"},"y":{"field":"y","type":"quantitative","axis":null}}},
      {"data":{"values":[{"x":-108,"y":-286,"lab":"200 µm"}]},"mark":{"type":"text","fontSize":18,"color":"#222"},"encoding":{"x":{"field":"x","type":"quantitative","axis":null},"y":{"field":"y","type":"quantitative","axis":null},"text":{"field":"lab"}}}
     ]}
   ],"spacing":41,"center":true,
   "resolve":{"scale":{"color":"independent","x":"independent","y":"independent"}}}
  ],"spacing":70,"align":"each",
  "resolve":{"scale":{"color":"independent","shape":"independent","size":"independent","x":"independent","y":"independent"},"legend":{"color":"independent","shape":"independent","size":"independent"}}}
 ],"spacing":10,"align":"each",
 "resolve":{"scale":{"color":"independent","x":"independent","y":"independent"}}},
 {"hconcat":[
  {"width":1,"height":1,"view":{"fill":null,"stroke":null},
   "data":{"values":[{"lab":"B","x":0,"y":-9}]},
   "layer":[
    {"mark":{"type":"point","shape":"circle","size":480,"filled":false,"fill":"white","stroke":"#222","strokeWidth":1.5,"opacity":1},"encoding":{"x":{"field":"x","type":"quantitative","scale":{"domain":[0,1],"nice":false,"zero":false},"axis":null},"y":{"field":"y","type":"quantitative","scale":{"domain":[0,1],"nice":false,"zero":false},"axis":null}}},
    {"mark":{"type":"text","fontWeight":"bold","fontSize":16,"color":"#111"},"encoding":{"x":{"field":"x","type":"quantitative","axis":null},"y":{"field":"y","type":"quantitative","axis":null},"text":{"field":"lab"}}}
   ]},
  {"hconcat":[
   {"width":154,"height":184,
    "layer":[
     {"data":{"name":"B"},"mark":{"type":"line","color":"#333","strokeWidth":1.1},
      "encoding":{"x":{"field":"x","type":"quantitative","title":"FS size (nm)","scale":{"type":"log","domain":[4.29,14800],"nice":false},"axis":{"values":[10,100,1000,7500],"labelExpr":"datum.value==10?'10¹':datum.value==100?'10²':datum.value==1000?'10³':'nil'","title":"FS size (nm)","labelFontSize":18,"labelOverlap":false,"labelFlush":false}},
       "y":{"field":"v","type":"quantitative","title":"α","scale":{"domain":[1.3,1.654],"nice":false},"axis":{"values":[1.3,1.4,1.5,1.6],"format":".1f","title":"α","titleFont":"Liberation Serif","titleFontWeight":"normal","titleFontSize":21,"titlePadding":6}},
       "detail":{"field":"g"},"order":{"field":"x"}}},
     {"data":{"name":"B"},"mark":{"type":"errorbar","ticks":{"size":7},"thickness":1.5},
      "encoding":{"x":{"field":"x","type":"quantitative","title":"FS size (nm)"},"y":{"field":"v","type":"quantitative","title":"α"},"yError":{"field":"e"},
       "color":{"field":"s","type":"nominal","scale":{"domain":["nil","TiO2","1000","500","200","100","40","20"],"range":["#2b2b2b","#444444","#20b1b9","#e8262e","#a448a6","#3a4fae","#1f8a4f","#b8bb2b"]},"legend":null}}},
     {"data":{"name":"B"},"transform":[{"filter":"datum.s!='TiO2'"}],"mark":{"type":"point","filled":false,"fill":"white","strokeWidth":1.6,"opacity":1},
      "encoding":{"x":{"field":"x","type":"quantitative","title":"FS size (nm)"},"y":{"field":"v","type":"quantitative","title":"α"},"color":{"field":"s","type":"nominal","legend":null},
       "shape":{"field":"g","type":"nominal","scale":{"domain":["52","48"],"range":["circle","triangle-right"]},"legend":null},
       "size":{"field":"g","type":"nominal","scale":{"domain":["52","48"],"range":[133,170]},"legend":null}}},
     {"data":{"name":"B"},"transform":[{"filter":"datum.s=='TiO2'"}],"mark":{"type":"point","filled":true,"color":"#222","shape":"triangle-right","size":170,"opacity":1},
      "encoding":{"x":{"field":"x","type":"quantitative","title":"FS size (nm)"},"y":{"field":"v","type":"quantitative","title":"α"}}},
     {"data":{"values":[{"x":9,"v":1.588,"lab":"HCF52"},{"x":240,"v":1.333,"lab":"HCF48"}]},"mark":{"type":"text","fontSize":15,"align":"left","color":"#333"},
      "encoding":{"x":{"field":"x","type":"quantitative","title":"FS size (nm)"},"y":{"field":"v","type":"quantitative","title":"α"},"text":{"field":"lab"}}}
    ]},
   {"width":152,"height":182,
    "layer":[
     {"data":{"name":"C"},"mark":{"type":"line","color":"#333","strokeWidth":1.1},
      "encoding":{"x":{"field":"x","type":"quantitative","title":"FS size (nm)","scale":{"type":"log","domain":[4.52,14100],"nice":false},"axis":{"values":[10,100,1000,7500],"labelExpr":"datum.value==10?'10¹':datum.value==100?'10²':datum.value==1000?'10³':'nil'","title":"FS size (nm)","labelFontSize":18,"labelOverlap":false,"labelFlush":false}},
       "y":{"field":"v","type":"quantitative","title":"D (µm²)","scale":{"type":"log","domain":[5,60],"nice":false},"axis":{"values":[5,10,20,40],"format":"d","title":"D (µm²)","titlePadding":6}},
       "detail":{"field":"g"},"order":{"field":"x"}}},
     {"data":{"name":"C"},"transform":[{"filter":"datum.s!='TiO2'"}],"mark":{"type":"point","filled":false,"fill":"white","strokeWidth":1.6,"opacity":1},
      "encoding":{"x":{"field":"x","type":"quantitative","title":"FS size (nm)"},"y":{"field":"v","type":"quantitative","title":"D (µm²)"},
       "color":{"field":"s","type":"nominal","scale":{"domain":["nil","TiO2","1000","500","200","100","40","20"],"range":["#2b2b2b","#444444","#20b1b9","#e8262e","#a448a6","#3a4fae","#1f8a4f","#b8bb2b"]},"legend":null},
       "shape":{"field":"g","type":"nominal","scale":{"domain":["52","48"],"range":["circle","triangle-right"]},"legend":null},
       "size":{"field":"g","type":"nominal","scale":{"domain":["52","48"],"range":[155,250]},"legend":null}}},
     {"data":{"name":"C"},"transform":[{"filter":"datum.s=='TiO2'"}],"mark":{"type":"point","filled":true,"color":"#222","shape":"triangle-right","size":250,"opacity":1},
      "encoding":{"x":{"field":"x","type":"quantitative","title":"FS size (nm)"},"y":{"field":"v","type":"quantitative","title":"D (µm²)"}}},
     {"data":{"values":[{"x":7.7,"v":35,"lab":"HCF48"},{"x":420,"v":7.07,"lab":"HCF52"}]},"mark":{"type":"text","fontSize":15,"align":"left","color":"#333"},
      "encoding":{"x":{"field":"x","type":"quantitative","title":"FS size (nm)"},"y":{"field":"v","type":"quantitative","title":"D (µm²)"},"text":{"field":"lab"}}},
     {"data":{"values":[{"x":0.153,"v":52.6,"lab":"C"}]},
      "layer":[
       {"mark":{"type":"point","shape":"circle","size":480,"filled":false,"fill":"white","stroke":"#222","strokeWidth":1.5,"opacity":1},"encoding":{"x":{"field":"x","type":"quantitative","title":"FS size (nm)"},"y":{"field":"v","type":"quantitative","title":"D (µm²)"}}},
       {"mark":{"type":"text","fontWeight":"bold","fontSize":16,"color":"#111"},"encoding":{"x":{"field":"x","type":"quantitative","title":"FS size (nm)"},"y":{"field":"v","type":"quantitative","title":"D (µm²)"},"text":{"field":"lab"}}}
      ]}
    ]},
   {"width":152,"height":182,
    "layer":[
     {"data":{"name":"D"},"mark":{"type":"line","color":"#333","strokeWidth":1.1},
      "encoding":{"x":{"field":"x","type":"quantitative","title":"FS size (nm)","scale":{"type":"log","domain":[4.27,14450],"nice":false},"axis":{"values":[10,100,1000,7500],"labelExpr":"datum.value==10?'10¹':datum.value==100?'10²':datum.value==1000?'10³':'nil'","title":"FS size (nm)","labelFontSize":18,"labelOverlap":false,"labelFlush":false}},
       "y":{"field":"v","type":"quantitative","title":"Relative healing","scale":{"domain":[0.36,1.265],"nice":false},"axis":{"values":[0.4,0.6,0.8,1.0,1.2],"format":".1f","title":"Relative healing","titlePadding":6}},
       "order":{"field":"x"}}},
     {"data":{"name":"D"},"mark":{"type":"errorbar","ticks":{"size":7},"thickness":1.5},
      "encoding":{"x":{"field":"x","type":"quantitative","title":"FS size (nm)"},"y":{"field":"v","type":"quantitative","title":"Relative healing"},"yError":{"field":"e"},
       "color":{"field":"s","type":"nominal","scale":{"domain":["nil","TiO2","1000","500","200","100","40","20"],"range":["#2b2b2b","#444444","#20b1b9","#e8262e","#a448a6","#3a4fae","#1f8a4f","#b8bb2b"]},"legend":null}}},
     {"data":{"name":"D"},"transform":[{"filter":"datum.k!='f'"}],"mark":{"type":"point","filled":false,"fill":"white","strokeWidth":1.6,"opacity":1},
      "encoding":{"x":{"field":"x","type":"quantitative","title":"FS size (nm)"},"y":{"field":"v","type":"quantitative","title":"Relative healing"},"color":{"field":"s","type":"nominal","legend":null},
       "shape":{"field":"k","type":"nominal","scale":{"domain":["c","t"],"range":["circle","triangle-right"]},"legend":null},
       "size":{"field":"k","type":"nominal","scale":{"domain":["c","t"],"range":[120,200]},"legend":null}}},
     {"data":{"name":"D"},"transform":[{"filter":"datum.k=='f'"}],"mark":{"type":"point","filled":true,"color":"#222","shape":"triangle-right","size":200,"opacity":1},
      "encoding":{"x":{"field":"x","type":"quantitative","title":"FS size (nm)"},"y":{"field":"v","type":"quantitative","title":"Relative healing"}}},
     {"data":{"values":[{"x":0.028,"v":1.225,"lab":"D"}]},
      "layer":[
       {"mark":{"type":"point","shape":"circle","size":480,"filled":false,"fill":"white","stroke":"#222","strokeWidth":1.5,"opacity":1},"encoding":{"x":{"field":"x","type":"quantitative","title":"FS size (nm)"},"y":{"field":"v","type":"quantitative","title":"Relative healing"}}},
       {"mark":{"type":"text","fontWeight":"bold","fontSize":16,"color":"#111"},"encoding":{"x":{"field":"x","type":"quantitative","title":"FS size (nm)"},"y":{"field":"v","type":"quantitative","title":"Relative healing"},"text":{"field":"lab"}}}
      ]}
    ]}
  ],"spacing":45,"align":"each",
  "resolve":{"scale":{"color":"independent","shape":"independent","size":"independent","x":"independent","y":"independent"},"legend":{"color":"independent","shape":"independent","size":"independent"}}}
 ],"spacing":3,"align":"each",
 "resolve":{"scale":{"color":"independent","x":"independent","y":"independent"}}}
],"spacing":15,"align":"none",
"resolve":{"scale":{"color":"independent","shape":"independent","size":"independent","x":"independent","y":"independent"},"legend":{"color":"independent","shape":"independent","size":"independent"}}},
{"vconcat":[
 {"width":295,"height":284,
  "layer":[
   {"data":{"values":[{"l":"a","x":1.375,"y":0.347},{"l":"a","x":1.547,"y":1.232},{"l":"b","x":1.386,"y":0.347},{"l":"b","x":1.65,"y":1.004}]},"mark":{"type":"line","color":"#a9b3c3","strokeWidth":1.3},
    "encoding":{"x":{"field":"x","type":"quantitative","title":"α","scale":{"domain":[1.349,1.7],"nice":false},"axis":{"values":[1.4,1.5,1.6,1.7],"format":".1f","title":"α","titleFont":"Liberation Serif","titleFontWeight":"normal","titleFontSize":21,"labelPadding":3}},
     "y":{"field":"y","type":"quantitative","title":"Relative healing","scale":{"domain":[0.349,1.251],"nice":false},"axis":{"values":[0.4,0.6,0.8,1.0,1.2],"format":".1f","title":"Relative healing","titlePadding":14}},"detail":{"field":"l"}}},
   {"data":{"name":"E"},"mark":{"type":"errorbar","ticks":{"size":9},"thickness":1.6},
    "encoding":{"x":{"field":"x","type":"quantitative","title":"α"},"xError":{"field":"ex"},"y":{"field":"y","type":"quantitative","title":"Relative healing"},
     "color":{"field":"s","type":"nominal","scale":{"domain":["nil","TiO2","1000","500","200","100","40","20"],"range":["#2b2b2b","#444444","#20b1b9","#e8262e","#a448a6","#3a4fae","#1f8a4f","#b8bb2b"]},"legend":null}}},
   {"data":{"name":"E"},"mark":{"type":"errorbar","ticks":{"size":9},"thickness":1.6},
    "encoding":{"y":{"field":"y","type":"quantitative","title":"Relative healing"},"yError":{"field":"ey"},"x":{"field":"x","type":"quantitative","title":"α"},"color":{"field":"s","type":"nominal","legend":null}}},
   {"data":{"name":"E"},"mark":{"type":"point","filled":false,"fill":"white","strokeWidth":1.8,"opacity":1},
    "encoding":{"x":{"field":"x","type":"quantitative","title":"α"},"y":{"field":"y","type":"quantitative","title":"Relative healing"},"color":{"field":"s","type":"nominal","legend":null},
     "shape":{"field":"k","type":"nominal","scale":{"domain":["big","small","tri","tio"],"range":["circle","circle","triangle-right","M-1,-1L1,-1L-1,1L1,1Z"]},"legend":null},
     "size":{"field":"k","type":"nominal","scale":{"domain":["big","small","tri","tio"],"range":[300,130,260,110]},"legend":null}}},
   {"data":{"values":[{"x":1.232,"y":1.237,"lab":"E"}]},
    "layer":[
     {"mark":{"type":"point","shape":"circle","size":480,"filled":false,"fill":"white","stroke":"#222","strokeWidth":1.5,"opacity":1},"encoding":{"x":{"field":"x","type":"quantitative","title":"α"},"y":{"field":"y","type":"quantitative","title":"Relative healing"}}},
     {"mark":{"type":"text","fontWeight":"bold","fontSize":16,"color":"#111"},"encoding":{"x":{"field":"x","type":"quantitative","title":"α"},"y":{"field":"y","type":"quantitative","title":"Relative healing"},"text":{"field":"lab"}}}
    ]}
  ]},
 {"width":295,"height":285,
  "layer":[
   {"data":{"values":[{"l":"a","x":1.352,"y":0.35},{"l":"a","x":1.695,"y":1.235},{"l":"b","x":1.356,"y":0.347},{"l":"b","x":1.699,"y":1.179}]},"mark":{"type":"line","color":"#a9b3c3","strokeWidth":1.3},
    "encoding":{"x":{"field":"x","type":"quantitative","title":"Relative speed","scale":{"domain":[1.349,1.7],"nice":false},"axis":{"values":[1.4,1.5,1.6,1.7],"format":".1f","title":"Relative speed","titleFontSize":20,"labelPadding":3}},
     "y":{"field":"y","type":"quantitative","title":"Relative healing","scale":{"domain":[0.345,1.253],"nice":false},"axis":{"values":[0.4,0.6,0.8,1.0,1.2],"format":".1f","title":"Relative healing","titlePadding":14}},"detail":{"field":"l"}}},
   {"data":{"name":"F"},"mark":{"type":"errorbar","ticks":{"size":9},"thickness":1.6},
    "encoding":{"x":{"field":"x","type":"quantitative","title":"Relative speed"},"xError":{"field":"ex"},"y":{"field":"y","type":"quantitative","title":"Relative healing"},
     "color":{"field":"s","type":"nominal","scale":{"domain":["nil","TiO2","1000","500","200","100","40","20"],"range":["#2b2b2b","#444444","#20b1b9","#e8262e","#a448a6","#3a4fae","#1f8a4f","#b8bb2b"]},"legend":null}}},
   {"data":{"name":"F"},"mark":{"type":"errorbar","ticks":{"size":9},"thickness":1.6},
    "encoding":{"y":{"field":"y","type":"quantitative","title":"Relative healing"},"yError":{"field":"ey"},"x":{"field":"x","type":"quantitative","title":"Relative speed"},"color":{"field":"s","type":"nominal","legend":null}}},
   {"data":{"name":"F"},"mark":{"type":"point","filled":false,"fill":"white","strokeWidth":1.8,"opacity":1},
    "encoding":{"x":{"field":"x","type":"quantitative","title":"Relative speed"},"y":{"field":"y","type":"quantitative","title":"Relative healing"},"color":{"field":"s","type":"nominal","legend":null},
     "shape":{"field":"k","type":"nominal","scale":{"domain":["big","small","tri","tio"],"range":["circle","circle","triangle-right","M-1,-1L1,-1L-1,1L1,1Z"]},"legend":null},
     "size":{"field":"k","type":"nominal","scale":{"domain":["big","small","tri","tio"],"range":[300,130,260,110]},"legend":null}}},
   {"data":{"values":[{"x":1.234,"y":1.221,"lab":"F"}]},
    "layer":[
     {"mark":{"type":"point","shape":"circle","size":480,"filled":false,"fill":"white","stroke":"#222","strokeWidth":1.5,"opacity":1},"encoding":{"x":{"field":"x","type":"quantitative","title":"Relative speed"},"y":{"field":"y","type":"quantitative","title":"Relative healing"}}},
     {"mark":{"type":"text","fontWeight":"bold","fontSize":16,"color":"#111"},"encoding":{"x":{"field":"x","type":"quantitative","title":"Relative speed"},"y":{"field":"y","type":"quantitative","title":"Relative healing"},"text":{"field":"lab"}}}
    ]}
  ]}
],"spacing":22,"align":"each",
"resolve":{"scale":{"color":"independent","shape":"independent","size":"independent","x":"independent","y":"independent"},"legend":{"color":"independent","shape":"independent","size":"independent"}}}
],
"spacing":40,"align":"each",
"resolve":{"scale":{"color":"independent","shape":"independent","size":"independent","x":"independent","y":"independent"},"legend":{"color":"independent","shape":"independent","size":"independent"}}
}
